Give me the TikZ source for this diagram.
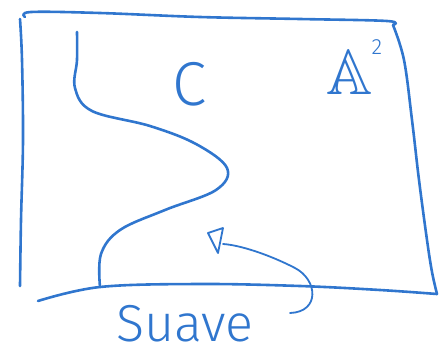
\documentclass[tikz,border=0pt]{standalone}
\usepackage{amssymb}
\usepackage{fontspec}
\newfontfamily\handfont{Fira Sans Light}
\definecolor{ink}{RGB}{48,118,206}
\tikzset{
  pen/.style={draw=ink, line width=2.6pt, line cap=round, line join=round},
  thinpen/.style={draw=ink, line width=1.8pt, line cap=round, line join=round},
  label/.style={text=ink, inner sep=0pt},
}
\begin{document}
\begin{tikzpicture}[x=1pt, y=-1pt]
\useasboundingbox (0,0) rectangle (439,354);
% sheet outline: top edge, right edge and ground line
\draw[pen] plot[smooth, tension=0.6] coordinates {
  (25,17) (31,12) (100,13) (200,17) (300,19) (387,21) (393,25)};
\draw[pen] plot[smooth, tension=0.6] coordinates {
  (393,25) (404,60) (412,120) (419,180) (427,240) (432,272) (437,294)};
\draw[pen] plot[smooth, tension=0.6] coordinates {
  (437,294) (380,290) (300,286) (200,284) (100,287) (38,301)};
% left edge
\draw[pen] plot[smooth, tension=0.6] coordinates {
  (20,19) (22,60) (23,140) (21,220) (20,286)};
% the curve C
\draw[pen] plot[smooth, tension=0.6] coordinates {
  (77,32) (77,60) (75,88) (92,111) (150,126) (196,144) (227,168)
  (216,190) (165,210) (120,230) (101,254) (100,287)};
% labels
\node[label, font=\handfont\fontsize{62}{62}\selectfont] (c) at (190,84) {C};
\node[label, font=\fontsize{64}{64}\selectfont] (a) at (350,72) {$\mathbb{A}$};
\node[label, font=\handfont\fontsize{22}{22}\selectfont] (sq) at (377,47) {2};
\node[label, font=\handfont\fontsize{52}{52}\selectfont, anchor=base] (s) at (185,341) {Suave};
% arrow pointing at the curve
\coordinate (tip) at (223,244);
\coordinate (hook) at (290,313);
\draw[thinpen] (hook) .. controls (320,312) and (318,280) .. (295,268)
  .. controls (270,255) and (240,245) .. (tip);
\draw[thinpen] (208,233) -- (223,228) -- (218,253) -- cycle;
\end{tikzpicture}
\end{document}
